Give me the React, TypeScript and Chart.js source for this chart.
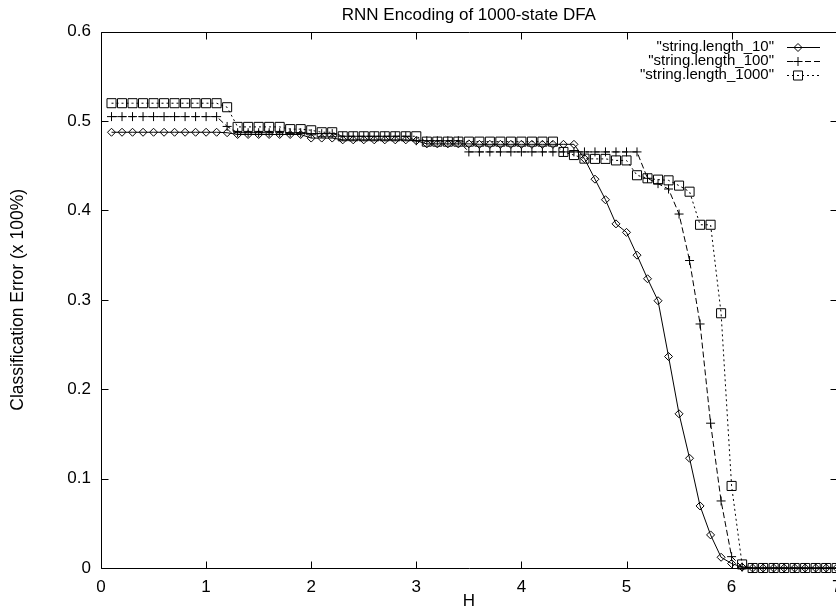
import { useEffect, useRef } from "react";
import { Chart, registerables } from "chart.js";

Chart.register(...registerables);

const chartTitle = "RNN Encoding of 1000-state DFA";
const xAxisTitle = "H";
const yAxisTitle = "Classification Error (x 100%)";

const hValues = [
  0.1, 0.2, 0.3, 0.4, 0.5, 0.6, 0.7, 0.8, 0.9, 1.0,
  1.1, 1.2, 1.3, 1.4, 1.5, 1.6, 1.7, 1.8, 1.9, 2.0,
  2.1, 2.2, 2.3, 2.4, 2.5, 2.6, 2.7, 2.8, 2.9, 3.0,
  3.1, 3.2, 3.3, 3.4, 3.5, 3.6, 3.7, 3.8, 3.9, 4.0,
  4.1, 4.2, 4.3, 4.4, 4.5, 4.6, 4.7, 4.8, 4.9, 5.0,
  5.1, 5.2, 5.3, 5.4, 5.5, 5.6, 5.7, 5.8, 5.9, 6.0,
  6.1, 6.2, 6.3, 6.4, 6.5, 6.6, 6.7, 6.8, 6.9, 7.0,
];

const seriesLength10 = [
  0.4875, 0.4875, 0.4875, 0.4875, 0.4875, 0.4875, 0.4875, 0.4875, 0.4875, 0.4875,
  0.4875, 0.487, 0.485, 0.485, 0.485, 0.485, 0.485, 0.485, 0.485, 0.481,
  0.481, 0.481, 0.479, 0.479, 0.479, 0.479, 0.479, 0.479, 0.479, 0.478,
  0.4745, 0.4745, 0.4745, 0.4745, 0.4745, 0.474, 0.474, 0.474, 0.474, 0.474,
  0.474, 0.474, 0.474, 0.474, 0.474, 0.458, 0.435, 0.412, 0.385, 0.3755,
  0.35, 0.3236, 0.299, 0.2366, 0.1725, 0.1228, 0.0694, 0.037, 0.012, 0.005,
  0.001, 0, 0, 0, 0, 0, 0, 0, 0, 0,
];

const seriesLength100 = [
  0.505, 0.505, 0.505, 0.505, 0.505, 0.505, 0.505, 0.505, 0.505, 0.505,
  0.505, 0.494, 0.487, 0.487, 0.487, 0.487, 0.487, 0.487, 0.487, 0.486,
  0.486, 0.486, 0.483, 0.483, 0.483, 0.483, 0.483, 0.483, 0.483, 0.478,
  0.478, 0.478, 0.478, 0.478, 0.4655, 0.4655, 0.4655, 0.4655, 0.4655, 0.4655,
  0.4655, 0.4655, 0.4655, 0.4655, 0.4655, 0.4655, 0.4655, 0.4655, 0.4655, 0.4655,
  0.4655, 0.436, 0.43, 0.424, 0.396, 0.344, 0.273, 0.162, 0.075, 0.0127,
  0.001, 0, 0, 0, 0, 0, 0, 0, 0, 0,
];

const seriesLength1000 = [
  0.52, 0.52, 0.52, 0.52, 0.52, 0.52, 0.52, 0.52, 0.52, 0.52,
  0.52, 0.5155, 0.4935, 0.4935, 0.4935, 0.4935, 0.4935, 0.491, 0.491, 0.4897,
  0.4875, 0.4875, 0.483, 0.483, 0.483, 0.483, 0.483, 0.483, 0.483, 0.483,
  0.477, 0.477, 0.477, 0.477, 0.477, 0.477, 0.477, 0.477, 0.477, 0.477,
  0.477, 0.477, 0.477, 0.4655, 0.462, 0.458, 0.4577, 0.4577, 0.456, 0.456,
  0.4394, 0.436, 0.4345, 0.4337, 0.4278, 0.421, 0.384, 0.384, 0.285, 0.0918,
  0.004, 0, 0, 0, 0, 0, 0, 0, 0, 0,
];

const seriesNames = ['"string.length_10"', '"string.length_100"', '"string.length_1000"'];
const xTickValues = [0, 1, 2, 3, 4, 5, 6, 7];
const yTickValues = [0, 0.1, 0.2, 0.3, 0.4, 0.5, 0.6];

const FONT = '"Liberation Sans", Arial, Helvetica, sans-serif';

function drawMarker(ctx: CanvasRenderingContext2D, style: string, x: number, y: number, r: number) {
  ctx.beginPath();
  if (style === "rectRot") {
    ctx.moveTo(x - r, y);
    ctx.lineTo(x, y - r);
    ctx.lineTo(x + r, y);
    ctx.lineTo(x, y + r);
    ctx.closePath();
  } else if (style === "cross") {
    ctx.moveTo(x - r, y);
    ctx.lineTo(x + r, y);
    ctx.moveTo(x, y - r);
    ctx.lineTo(x, y + r);
  } else {
    const s = Math.SQRT1_2 * r;
    ctx.rect(x - s, y - s, 2 * s, 2 * s);
  }
  ctx.stroke();
}

const framePlugin = {
  id: "gnuFrame",
  afterDatasetsDraw(chart: any) {
    const { ctx, chartArea, scales } = chart;
    const L = Math.round(chartArea.left) + 0.5;
    const R = Math.round(chartArea.right) + 0.5;
    const T = Math.round(chartArea.top) + 0.5;
    const B = Math.round(chartArea.bottom) + 0.5;
    const tl = 7;
    ctx.save();
    ctx.strokeStyle = "#000";
    ctx.lineWidth = 1;
    ctx.setLineDash([]);
    ctx.beginPath();
    ctx.rect(L, T, R - L, B - T);
    for (const v of xTickValues) {
      const px = Math.round(scales.x.getPixelForValue(v)) + 0.5;
      ctx.moveTo(px, B);
      ctx.lineTo(px, B - tl);
      ctx.moveTo(px, T);
      ctx.lineTo(px, T + tl);
    }
    for (const v of yTickValues) {
      const py = Math.round(scales.y.getPixelForValue(v)) + 0.5;
      ctx.moveTo(L, py);
      ctx.lineTo(L + tl, py);
      ctx.moveTo(R, py);
      ctx.lineTo(R - tl, py);
    }
    ctx.stroke();

    // title centred over the plot area
    ctx.fillStyle = "#000";
    ctx.font = `17px ${FONT}`;
    ctx.textAlign = "center";
    ctx.textBaseline = "middle";
    ctx.fillText(chartTitle, (chartArea.left + chartArea.right) / 2, 15);

    // gnuplot-style key
    const textRight = 774;
    const sampleLeft = 787;
    const sampleRight = 820;
    const markerX = 798;
    const rows = [47, 61, 75];
    ctx.font = `15px ${FONT}`;
    ctx.textAlign = "right";
    ctx.textBaseline = "middle";
    chart.data.datasets.forEach((ds: any, i: number) => {
      const yRow = rows[i] + 0.5;
      ctx.fillText(seriesNames[i], textRight, rows[i]);
      ctx.setLineDash(ds.borderDash || []);
      ctx.beginPath();
      ctx.moveTo(sampleLeft, yRow);
      ctx.lineTo(sampleRight, yRow);
      ctx.stroke();
      ctx.setLineDash([]);
      drawMarker(ctx, ds.pointStyle, markerX, yRow, ds.pointRadius);
    });
    ctx.restore();
  },
};

export default function App() {
  const canvasRef = useRef<HTMLCanvasElement | null>(null);

  useEffect(() => {
    if (!canvasRef.current) return;
    Chart.defaults.font.family = FONT;
    Chart.defaults.color = "#000";

    const toPoints = (vals: number[]) => hValues.map((h, i) => ({ x: h, y: vals[i] }));

    const common = {
      borderColor: "#000",
      borderWidth: 1,
      pointBorderColor: "#000",
      pointBackgroundColor: "rgba(0,0,0,0)",
      pointBorderWidth: 1,
      fill: false,
      tension: 0,
      clip: false as const,
    };

    const chart = new Chart(canvasRef.current, {
      type: "line",
      data: {
        datasets: [
          {
            ...common,
            label: seriesNames[0],
            data: toPoints(seriesLength10),
            pointStyle: "rectRot",
            pointRadius: 4,
            borderDash: [],
          },
          {
            ...common,
            label: seriesNames[1],
            data: toPoints(seriesLength100),
            pointStyle: "cross",
            pointRadius: 4.5,
            borderDash: [6, 3],
          },
          {
            ...common,
            label: seriesNames[2],
            data: toPoints(seriesLength1000),
            pointStyle: "rect",
            pointRadius: 6.4,
            borderDash: [2, 3],
          },
        ],
      },
      options: {
        animation: false,
        responsive: false,
        devicePixelRatio: 1,
        events: [],
        layout: { padding: { left: 0, right: 43.3, top: 31.7, bottom: 0 } },
        plugins: {
          legend: { display: false },
          tooltip: { enabled: false },
          title: { display: false },
        },
        scales: {
          x: {
            type: "linear",
            min: 0,
            max: 7,
            grid: { display: false, drawTicks: false },
            border: { display: false },
            ticks: {
              stepSize: 1,
              padding: 9,
              font: { size: 17, family: FONT },
              color: "#000",
              maxRotation: 0,
            },
            title: {
              display: true,
              text: xAxisTitle,
              color: "#000",
              font: { size: 17, family: FONT, lineHeight: 1 },
              padding: { top: 0, bottom: -1.5 },
            },
            afterFit: (scale: any) => {
              scale.height = 40;
            },
          },
          y: {
            type: "linear",
            min: 0,
            max: 0.6,
            grid: { display: false, drawTicks: false },
            border: { display: false },
            ticks: {
              stepSize: 0.1,
              padding: 10,
              font: { size: 17, family: FONT },
              color: "#000",
              callback: (v: any) => (Number(v) === 0 ? "0" : Number(v).toFixed(1)),
            },
            title: {
              display: true,
              text: yAxisTitle,
              color: "#000",
              font: { size: 17.5, family: FONT, lineHeight: 1.2 },
              padding: { top: 7.8, bottom: 0 },
            },
            afterFit: (scale: any) => {
              scale.width = 101;
            },
          },
        },
      },
      plugins: [framePlugin],
    });

    return () => chart.destroy();
  }, []);

  return (
    <div
      style={{
        position: "fixed",
        left: 0,
        top: 0,
        width: 836,
        height: 608,
        overflow: "hidden",
        background: "#fff",
      }}
    >
      <canvas ref={canvasRef} width={880} height={608} style={{ width: 880, height: 608, display: "block" }} />
    </div>
  );
}
